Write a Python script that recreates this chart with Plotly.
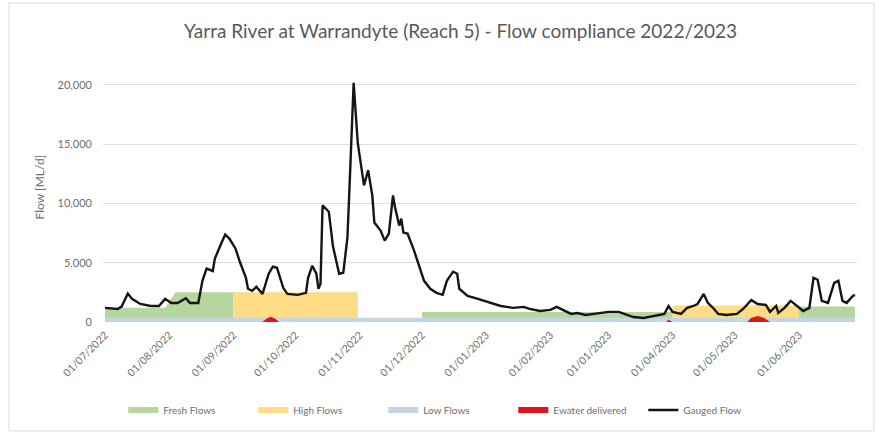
import plotly.graph_objects as go

TITLE = "Yarra River at Warrandyte (Reach 5) - Flow compliance 2022/2023"
Y_TITLE = "Flow [ML/d]"

# Gauged flow (ML/d)
flow_dates = [
    "2022-07-01", "2022-07-07", "2022-07-09", "2022-07-12", "2022-07-14", "2022-07-18", "2022-07-23", "2022-07-27", "2022-07-30",
    "2022-08-02", "2022-08-05", "2022-08-09", "2022-08-11", "2022-08-15", "2022-08-17", "2022-08-19", "2022-08-22", "2022-08-23", "2022-08-26", "2022-08-28", "2022-08-30",
    "2022-09-02", "2022-09-04", "2022-09-07", "2022-09-08", "2022-09-10", "2022-09-12", "2022-09-15", "2022-09-18", "2022-09-20", "2022-09-22", "2022-09-25", "2022-09-27",
    "2022-10-02", "2022-10-06", "2022-10-07", "2022-10-09", "2022-10-11", "2022-10-12", "2022-10-13", "2022-10-14", "2022-10-17", "2022-10-19", "2022-10-22", "2022-10-24", "2022-10-26", "2022-10-27", "2022-10-29", "2022-10-31",
    "2022-11-03", "2022-11-05", "2022-11-07", "2022-11-08", "2022-11-11", "2022-11-13", "2022-11-15", "2022-11-17", "2022-11-18", "2022-11-20", "2022-11-21", "2022-11-22", "2022-11-24", "2022-11-27", "2022-11-29",
    "2022-12-02", "2022-12-05", "2022-12-08", "2022-12-11", "2022-12-13", "2022-12-16", "2022-12-18", "2022-12-19", "2022-12-23", "2022-12-28",
    "2023-01-02", "2023-01-08", "2023-01-14", "2023-01-19", "2023-01-22", "2023-01-27",
    "2023-02-01", "2023-02-04", "2023-02-07", "2023-02-11", "2023-02-14", "2023-02-18", "2023-02-22",
    "2023-03-01", "2023-03-06", "2023-03-09", "2023-03-13", "2023-03-18", "2023-03-24", "2023-03-28", "2023-03-30",
    "2023-04-01", "2023-04-05", "2023-04-08", "2023-04-11", "2023-04-13", "2023-04-16", "2023-04-18", "2023-04-21", "2023-04-23", "2023-04-27",
    "2023-05-02", "2023-05-05", "2023-05-09", "2023-05-12", "2023-05-16", "2023-05-18", "2023-05-21", "2023-05-22", "2023-05-25", "2023-05-28", "2023-05-30",
    "2023-06-03", "2023-06-06", "2023-06-08", "2023-06-10", "2023-06-12", "2023-06-15", "2023-06-18", "2023-06-20", "2023-06-22", "2023-06-24", "2023-06-27", "2023-06-28",
]
flow_values = [
    1190, 1100, 1300, 2400, 1950, 1520, 1350, 1350, 1950,
    1600, 1600, 2000, 1600, 1600, 3470, 4500, 4300, 5340, 6600, 7370, 7030,
    6180, 5100, 3730, 2800, 2630, 2970, 2370, 4070, 4660, 4570, 2880, 2370,
    2290, 2460, 3730, 4740, 4070, 2800, 3220, 9830, 9300, 6400, 4070, 4150, 7110, 11350, 20160, 15080,
    11520, 12790, 10670, 8390, 7710, 6860, 7450, 10670, 9660, 8130, 8720, 7540, 7450, 6100, 5000,
    3470, 2800, 2460, 2290, 3470, 4240, 4070, 2800, 2200, 1950,
    1690, 1350, 1190, 1270, 1100, 930,
    1020, 1270, 1020, 680, 760, 590, 680,
    850, 850, 680, 420, 340, 510, 680, 1350,
    850, 680, 1190, 1350, 1520, 2370, 1610, 1100, 680, 590,
    680, 1100, 1860, 1520, 1440, 850, 1350, 760, 1190, 1780, 1520,
    930, 1190, 3730, 3560, 1780, 1610, 3300, 3470, 1780, 1610, 2200, 2290,
]

# Flow compliance bands (ML/d)
fresh_dates = ["2022-07-01", "2022-07-30", "2022-08-04", "2022-09-01", "2022-09-01",
               "2022-12-01", "2022-12-01", "2023-04-01", "2023-04-01",
               "2023-06-01", "2023-06-01", "2023-06-28"]
fresh_values = [1200, 1200, 2500, 2500, 0,
                0, 850, 850, 0,
                0, 1300, 1300]

high_dates = ["2022-09-01", "2022-10-31", "2022-10-31", "2023-04-01", "2023-04-01", "2023-06-01"]
high_values = [2500, 2500, 0, 0, 1400, 1400]

low_dates = ["2022-07-01", "2023-06-28"]
low_values = [350, 350]

ewater_dates = ["2022-09-15", "2022-09-17", "2022-09-19", "2022-09-21", "2022-09-23",
                "2023-03-29", "2023-03-30", "2023-04-01",
                "2023-05-07", "2023-05-09", "2023-05-12", "2023-05-15", "2023-05-18"]
ewater_values = [0, 300, 450, 300, 0,
                 0, 200, 0,
                 0, 350, 500, 350, 0]

x_tick_dates = ["2022-07-01", "2022-08-01", "2022-09-01", "2022-10-01", "2022-11-01", "2022-12-01",
                "2023-01-01", "2023-02-01", "2023-03-01", "2023-04-01", "2023-05-01", "2023-06-01"]
x_tick_labels = ["01/07/2022", "01/08/2022", "01/09/2022", "01/10/2022", "01/11/2022", "01/12/2022",
                 "01/01/2023", "01/02/2023", "01/01/2023", "01/04/2023", "01/05/2023", "01/06/2023"]
y_tick_values = [0, 5000, 10000, 15000, 20000]
y_tick_labels = ["0", "5,000", "10,000", "15,000", "20,000"]

FONT = "Lato"
GREY = "#6e6e6e"

fig = go.Figure()
fig.add_trace(go.Scatter(x=fresh_dates, y=fresh_values, name="Fresh Flows", mode="none",
                         fill="tozeroy", fillcolor="#b5d69f"))
fig.add_trace(go.Scatter(x=high_dates, y=high_values, name="High Flows", mode="none",
                         fill="tozeroy", fillcolor="#fcdc85"))
fig.add_trace(go.Scatter(x=low_dates, y=low_values, name="Low Flows", mode="none",
                         fill="tozeroy", fillcolor="#c3d5e6"))
fig.add_trace(go.Scatter(x=ewater_dates, y=ewater_values, name="Ewater delivered", mode="none",
                         fill="tozeroy", fillcolor="#e2141b"))
fig.add_trace(go.Scatter(x=flow_dates, y=flow_values, name="Gauged Flow", mode="lines",
                         line=dict(color="#151515", width=2.4)))

fig.update_layout(
    width=879, height=434,
    margin=dict(l=103, r=22, t=80, b=112),
    paper_bgcolor="white", plot_bgcolor="white",
    font=dict(family=FONT, color=GREY, size=10),
    title=dict(text=TITLE, x=0.524, xref="container", xanchor="center",
               y=1 - 31 / 434, yref="container", yanchor="middle",
               font=dict(family=FONT, size=19, color="#595959")),
    showlegend=True,
    legend=dict(orientation="h", xref="container", x=0.51, xanchor="center",
                yref="container", y=1 - 410 / 434, yanchor="middle",
                entrywidth=85, entrywidthmode="pixels", itemwidth=30,
                font=dict(family=FONT, size=10, color=GREY), bgcolor="rgba(0,0,0,0)"),
    xaxis=dict(type="date", range=["2022-06-30", "2023-06-29"], automargin=False,
               tickmode="array", tickvals=x_tick_dates, ticktext=x_tick_labels,
               tickangle=-45, tickfont=dict(size=10.5, color=GREY), ticklabelstandoff=4,
               showgrid=False, zeroline=False, showline=False, ticks=""),
    yaxis=dict(range=[0, 20400], automargin=False,
               tickmode="array", tickvals=y_tick_values, ticktext=y_tick_labels,
               tickfont=dict(size=11, color=GREY), showgrid=True, gridcolor="#dedede", gridwidth=1,
               zeroline=False, showline=False, ticks="", ticklabelstandoff=10),
    annotations=[dict(text=Y_TITLE, xref="paper", yref="paper", x=-0.0836, y=0.56,
                      xanchor="center", yanchor="middle", textangle=-90, showarrow=False,
                      font=dict(family=FONT, size=12, color=GREY))],
    shapes=[dict(type="rect", xref="paper", yref="paper", x0=-0.1247, x1=1.0225, y0=-0.45, y1=1.318,
                 line=dict(color="#dcdcdc", width=1), fillcolor="rgba(0,0,0,0)", layer="below")],
)

fig.write_html("out.html", config={"displayModeBar": False},
               post_script="document.body.style.margin='0';document.body.style.overflow='hidden';")
